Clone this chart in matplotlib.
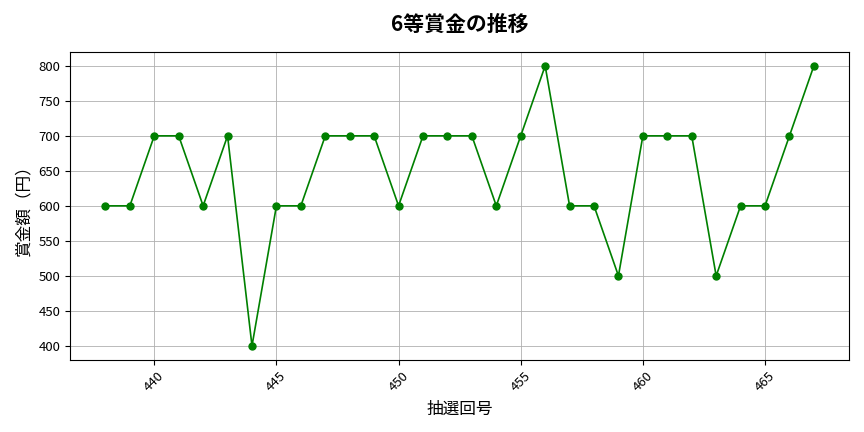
import matplotlib
matplotlib.use("Agg")
import matplotlib.pyplot as plt

plt.rcParams['font.family'] = ['Noto Sans CJK JP', 'DejaVu Sans']

draws = list(range(438, 468))
prizes = [600, 600, 700, 700, 600, 700, 400, 600, 600, 700,
          700, 700, 600, 700, 700, 700, 600, 700, 800, 600,
          600, 500, 700, 700, 700, 500, 600, 600, 700, 800]

fig, ax = plt.subplots(figsize=(8.64, 4.32), dpi=100)
ax.plot(draws, prizes, color='green', marker='o', markersize=5, linewidth=1.2)
ax.set_title('6等賞金の推移', fontsize=15, fontweight='bold', pad=15)
ax.set_xlabel('抽選回号', fontsize=12, labelpad=5)
ax.set_ylabel('賞金額（円）', fontsize=12)
ax.grid(True, color='#b0b0b0', linewidth=0.6)
ax.tick_params(axis='x', labelrotation=45, labelsize=9.5)
ax.tick_params(axis='y', labelsize=9.5)
fig.subplots_adjust(left=0.081, right=0.983, top=0.880, bottom=0.167)
fig.savefig('out.png', dpi=100)
